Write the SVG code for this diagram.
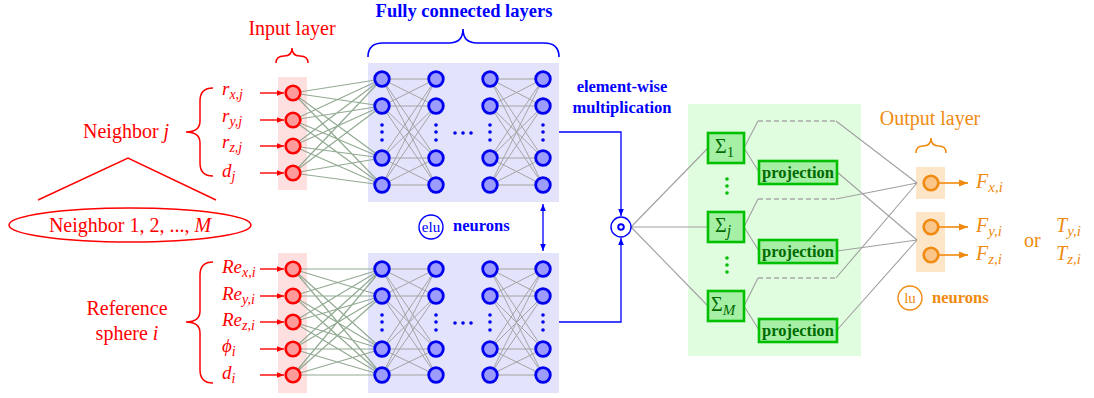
<svg xmlns="http://www.w3.org/2000/svg" width="1094" height="398" viewBox="0 0 1094 398" font-family="'Liberation Serif', 'DejaVu Serif', 'Noto Serif', 'Times New Roman', serif">
  <defs>
    <style>
      svg text, svg tspan { font-family: "Liberation Serif", "DejaVu Serif", "Noto Serif", "Times New Roman", serif; }
      .t20 { font-size: 20px; }
      .it { font-style: italic; }
      .b { font-weight: bold; }
      .sub { font-size: 14px; font-style: italic; }
      .red { fill: #ff0000; }
      .blue { fill: #0000ff; }
      .orange { fill: #f08a10; }
      .dgreen { fill: #006a00; }
      .inode { fill: #ff9a9a; stroke: #ff0000; stroke-width: 2.6; }
      .hnode { fill: #9c9cff; stroke: #0000ee; stroke-width: 2.8; }
      .onode { fill: #fbc68a; stroke: #f08a10; stroke-width: 2.6; }
      .gbox { fill: #a6f0a6; stroke: #00c000; stroke-width: 2.6; }
      .w-in { stroke: #93aa93; stroke-width: 1.2; fill: none; }
      .w-h { stroke: #a4a4a4; stroke-width: 1; fill: none; }
      .gray { stroke: #a0a0a0; stroke-width: 1.1; fill: none; }
      .dash { stroke: #a8a8a8; stroke-width: 1.3; fill: none; stroke-dasharray: 5 3; }
      .bl { stroke: #0000ff; stroke-width: 1.3; fill: none; }
      .rl { stroke: #ff0000; stroke-width: 1.4; fill: none; }
      .ol { stroke: #f08a10; stroke-width: 1.6; fill: none; }
      .brace-r { stroke: #ff0000; stroke-width: 1.5; fill: none; }
      .brace-b { stroke: #0000ff; stroke-width: 1.6; fill: none; }
      .brace-o { stroke: #f08a10; stroke-width: 1.5; fill: none; }
    </style>
    <marker id="arR" viewBox="0 0 10 10" refX="10" refY="5" markerWidth="7" markerHeight="7" markerUnits="userSpaceOnUse" orient="auto">
      <path d="M0,1 L10,5 L0,9 Z" fill="#ff0000"/>
    </marker>
    <marker id="arB" viewBox="0 0 10 10" refX="10" refY="5" markerWidth="7" markerHeight="7" markerUnits="userSpaceOnUse" orient="auto-start-reverse">
      <path d="M0,1 L10,5 L0,9 Z" fill="#0000ff"/>
    </marker>
    <marker id="arO" viewBox="0 0 10 10" refX="10" refY="5" markerWidth="9" markerHeight="9" markerUnits="userSpaceOnUse" orient="auto">
      <path d="M0,1 L10,5 L0,9 Z" fill="#f08a10"/>
    </marker>
  </defs>

  <!-- backgrounds -->
  <g id="backgrounds">
    <rect x="278" y="77" width="29" height="113" fill="#ffe0e0"/>
    <rect x="278" y="253" width="29" height="140" fill="#ffe0e0"/>
    <rect x="368" y="63" width="191" height="139" fill="#e3e3fc"/>
    <rect x="368" y="253" width="191" height="140" fill="#e3e3fc"/>
    <rect x="688" y="104" width="173" height="252" fill="#e0fde0"/>
    <rect x="916" y="167" width="29" height="32" fill="#fde6c8"/>
    <rect x="916" y="212" width="29" height="60" fill="#fde6c8"/>
  </g>

  <!-- connectors -->
  <g id="connectors">
    <!-- input layer to first hidden layer -->
    <g class="w-in">
      <path d="M293,93 L382,79 M293,93 L382,106 M293,93 L382,158 M293,93 L382,185
               M293,120 L382,79 M293,120 L382,106 M293,120 L382,158 M293,120 L382,185
               M293,146 L382,79 M293,146 L382,106 M293,146 L382,158 M293,146 L382,185
               M293,173 L382,79 M293,173 L382,106 M293,173 L382,158 M293,173 L382,185"/>
      <path d="M293,269 L382,269 M293,269 L382,296 M293,269 L382,349 M293,269 L382,375
               M293,296 L382,269 M293,296 L382,296 M293,296 L382,349 M293,296 L382,375
               M293,322 L382,269 M293,322 L382,296 M293,322 L382,349 M293,322 L382,375
               M293,349 L382,269 M293,349 L382,296 M293,349 L382,349 M293,349 L382,375
               M293,375 L382,269 M293,375 L382,296 M293,375 L382,349 M293,375 L382,375"/>
    </g>
    <!-- hidden to hidden -->
    <g class="w-h">
      <path d="M382,79 L436,79 M382,79 L436,106 M382,79 L436,158 M382,79 L436,185
               M382,106 L436,79 M382,106 L436,106 M382,106 L436,158 M382,106 L436,185
               M382,158 L436,79 M382,158 L436,106 M382,158 L436,158 M382,158 L436,185
               M382,185 L436,79 M382,185 L436,106 M382,185 L436,158 M382,185 L436,185"/>
      <path d="M490,79 L543,79 M490,79 L543,106 M490,79 L543,158 M490,79 L543,185
               M490,106 L543,79 M490,106 L543,106 M490,106 L543,158 M490,106 L543,185
               M490,158 L543,79 M490,158 L543,106 M490,158 L543,158 M490,158 L543,185
               M490,185 L543,79 M490,185 L543,106 M490,185 L543,158 M490,185 L543,185"/>
      <path d="M382,269 L436,269 M382,269 L436,296 M382,269 L436,349 M382,269 L436,375
               M382,296 L436,269 M382,296 L436,296 M382,296 L436,349 M382,296 L436,375
               M382,349 L436,269 M382,349 L436,296 M382,349 L436,349 M382,349 L436,375
               M382,375 L436,269 M382,375 L436,296 M382,375 L436,349 M382,375 L436,375"/>
      <path d="M490,269 L543,269 M490,269 L543,296 M490,269 L543,349 M490,269 L543,375
               M490,296 L543,269 M490,296 L543,296 M490,296 L543,349 M490,296 L543,375
               M490,349 L543,269 M490,349 L543,296 M490,349 L543,349 M490,349 L543,375
               M490,375 L543,269 M490,375 L543,296 M490,375 L543,349 M490,375 L543,375"/>
    </g>
    <!-- input arrows -->
    <g class="rl" marker-end="url(#arR)">
      <line x1="260" y1="93" x2="284" y2="93"/>
      <line x1="260" y1="120" x2="284" y2="120"/>
      <line x1="260" y1="146" x2="284" y2="146"/>
      <line x1="260" y1="173" x2="284" y2="173"/>
      <line x1="260" y1="269" x2="284" y2="269"/>
      <line x1="260" y1="296" x2="284" y2="296"/>
      <line x1="260" y1="322" x2="284" y2="322"/>
      <line x1="260" y1="349" x2="284" y2="349"/>
      <line x1="260" y1="375" x2="284" y2="375"/>
    </g>
    <!-- neighbor tree -->
    <path class="rl" d="M38,200 L128,158 L216,200" stroke-width="1.2"/>
    <!-- element-wise multiplication inputs -->
    <path class="bl" d="M559,132 H621 V216" marker-end="url(#arB)"/>
    <path class="bl" d="M559,322 H621 V238" marker-end="url(#arB)"/>
    <line class="bl" x1="543" y1="204" x2="543" y2="251" marker-start="url(#arB)" marker-end="url(#arB)"/>
    <!-- product to sums -->
    <path class="gray" d="M631,227 L708,148 M631,227 L708,227 M631,227 L708,306"/>
    <!-- sums to projections and dashed x-paths -->
    <path class="gray" d="M744,148 L759,172 M744,148 L758,121 M744,227 L759,251 M744,227 L758,199 M744,306 L759,330 M744,306 L758,278"/>
    <path class="dash" d="M758,121 H836 M758,199 H836 M758,278 H836"/>
    <!-- to output layer -->
    <path class="gray" d="M836,121 L917,183 M836,199 L917,183 M836,278 L917,183"/>
    <path class="gray" d="M837,172 L917,240 M837,251 L917,240 M837,330 L917,240"/>
    <!-- output arrows -->
    <g class="ol" marker-end="url(#arO)">
      <line x1="939" y1="183" x2="968" y2="183"/>
      <line x1="939" y1="227" x2="968" y2="227"/>
      <line x1="939" y1="255" x2="968" y2="255"/>
    </g>
  </g>

  <!-- input layer, top -->
  <g id="input-top">
    <circle class="inode" cx="293" cy="93" r="7.3"/>
    <circle class="inode" cx="293" cy="120" r="7.3"/>
    <circle class="inode" cx="293" cy="146" r="7.3"/>
    <circle class="inode" cx="293" cy="173" r="7.3"/>
  </g>
  <!-- input layer, bottom -->
  <g id="input-bottom">
    <circle class="inode" cx="293" cy="269" r="7.3"/>
    <circle class="inode" cx="293" cy="296" r="7.3"/>
    <circle class="inode" cx="293" cy="322" r="7.3"/>
    <circle class="inode" cx="293" cy="349" r="7.3"/>
    <circle class="inode" cx="293" cy="375" r="7.3"/>
  </g>

  <!-- hidden layers, top -->
  <g id="hidden-top">
    <g class="hnode">
      <circle cx="382" cy="79" r="7.3"/><circle cx="382" cy="106" r="7.3"/><circle cx="382" cy="158" r="7.3"/><circle cx="382" cy="185" r="7.3"/>
      <circle cx="436" cy="79" r="7.3"/><circle cx="436" cy="106" r="7.3"/><circle cx="436" cy="158" r="7.3"/><circle cx="436" cy="185" r="7.3"/>
      <circle cx="490" cy="79" r="7.3"/><circle cx="490" cy="106" r="7.3"/><circle cx="490" cy="158" r="7.3"/><circle cx="490" cy="185" r="7.3"/>
      <circle cx="543" cy="79" r="7.3"/><circle cx="543" cy="106" r="7.3"/><circle cx="543" cy="158" r="7.3"/><circle cx="543" cy="185" r="7.3"/>
    </g>
    <g fill="#0000ee">
      <circle cx="382" cy="125" r="1.8"/><circle cx="382" cy="132" r="1.8"/><circle cx="382" cy="140" r="1.8"/>
      <circle cx="436" cy="125" r="1.8"/><circle cx="436" cy="132" r="1.8"/><circle cx="436" cy="140" r="1.8"/>
      <circle cx="490" cy="125" r="1.8"/><circle cx="490" cy="132" r="1.8"/><circle cx="490" cy="140" r="1.8"/>
      <circle cx="543" cy="125" r="1.8"/><circle cx="543" cy="132" r="1.8"/><circle cx="543" cy="140" r="1.8"/>
      <circle cx="455" cy="133" r="1.8"/><circle cx="463" cy="133" r="1.8"/><circle cx="471" cy="133" r="1.8"/>
    </g>
  </g>

  <!-- hidden layers, bottom -->
  <g id="hidden-bottom">
    <g class="hnode">
      <circle cx="382" cy="269" r="7.3"/><circle cx="382" cy="296" r="7.3"/><circle cx="382" cy="349" r="7.3"/><circle cx="382" cy="375" r="7.3"/>
      <circle cx="436" cy="269" r="7.3"/><circle cx="436" cy="296" r="7.3"/><circle cx="436" cy="349" r="7.3"/><circle cx="436" cy="375" r="7.3"/>
      <circle cx="490" cy="269" r="7.3"/><circle cx="490" cy="296" r="7.3"/><circle cx="490" cy="349" r="7.3"/><circle cx="490" cy="375" r="7.3"/>
      <circle cx="543" cy="269" r="7.3"/><circle cx="543" cy="296" r="7.3"/><circle cx="543" cy="349" r="7.3"/><circle cx="543" cy="375" r="7.3"/>
    </g>
    <g fill="#0000ee">
      <circle cx="382" cy="315" r="1.8"/><circle cx="382" cy="322" r="1.8"/><circle cx="382" cy="330" r="1.8"/>
      <circle cx="436" cy="315" r="1.8"/><circle cx="436" cy="322" r="1.8"/><circle cx="436" cy="330" r="1.8"/>
      <circle cx="490" cy="315" r="1.8"/><circle cx="490" cy="322" r="1.8"/><circle cx="490" cy="330" r="1.8"/>
      <circle cx="543" cy="315" r="1.8"/><circle cx="543" cy="322" r="1.8"/><circle cx="543" cy="330" r="1.8"/>
      <circle cx="455" cy="323" r="1.8"/><circle cx="463" cy="323" r="1.8"/><circle cx="471" cy="323" r="1.8"/>
    </g>
  </g>

  <!-- element-wise product node -->
  <g id="product">
    <circle cx="621" cy="227" r="10" fill="#ffffff" stroke="#0000ff" stroke-width="1.4"/>
    <circle cx="621" cy="227" r="2.8" fill="none" stroke="#0000ff" stroke-width="2"/>
  </g>

  <!-- sum nodes -->
  <g id="sum-1">
    <rect class="gbox" x="708" y="133" width="36" height="30"/>
    <text x="715" y="153" font-size="20px" class="dgreen">Σ<tspan font-size="15px" dy="4">1</tspan></text>
  </g>
  <g id="sum-j">
    <rect class="gbox" x="708" y="212" width="36" height="30"/>
    <text x="715" y="232" font-size="20px" class="dgreen">Σ<tspan font-size="16px" font-style="italic" dy="4">j</tspan></text>
  </g>
  <g id="sum-M">
    <rect class="gbox" x="708" y="291" width="36" height="30"/>
    <text x="711" y="311" font-size="20px" class="dgreen">Σ<tspan font-size="15px" font-style="italic" dy="4">M</tspan></text>
  </g>
  <g id="sum-dots" fill="#00c000">
    <circle cx="727" cy="179" r="1.8"/><circle cx="727" cy="186" r="1.8"/><circle cx="727" cy="193" r="1.8"/>
    <circle cx="727" cy="258" r="1.8"/><circle cx="727" cy="265" r="1.8"/><circle cx="727" cy="272" r="1.8"/>
  </g>

  <!-- projection nodes -->
  <g id="projection-1">
    <rect class="gbox" x="759" y="161" width="78" height="23"/>
    <text x="798" y="178" text-anchor="middle" font-size="16.5px" class="b dgreen" textLength="72" lengthAdjust="spacingAndGlyphs">projection</text>
  </g>
  <g id="projection-j">
    <rect class="gbox" x="759" y="240" width="78" height="23"/>
    <text x="798" y="257" text-anchor="middle" font-size="16.5px" class="b dgreen" textLength="72" lengthAdjust="spacingAndGlyphs">projection</text>
  </g>
  <g id="projection-M">
    <rect class="gbox" x="759" y="319" width="78" height="23"/>
    <text x="798" y="336" text-anchor="middle" font-size="16.5px" class="b dgreen" textLength="72" lengthAdjust="spacingAndGlyphs">projection</text>
  </g>

  <!-- output layer -->
  <g id="output">
    <circle class="onode" cx="931" cy="183" r="7.3"/>
    <circle class="onode" cx="931" cy="227" r="7.3"/>
    <circle class="onode" cx="931" cy="255" r="7.3"/>
  </g>

  <!-- input labels, neighbor j -->
  <g id="labels-neighbor" class="red">
    <text x="222" y="95" font-size="19px" class="it">r<tspan class="sub" dy="4">x,j</tspan></text>
    <text x="222" y="122" font-size="19px" class="it">r<tspan class="sub" dy="4">y,j</tspan></text>
    <text x="222" y="148" font-size="19px" class="it">r<tspan class="sub" dy="4">z,j</tspan></text>
    <text x="222" y="177" font-size="19px" class="it">d<tspan class="sub" dy="4">j</tspan></text>
    <text x="83" y="138" class="t20">Neighbor <tspan class="it">j</tspan></text>
    <path class="brace-r" d="M213,88 Q200,88 200,101 L200,121 Q200,132 186,132 Q200,132 200,143 L200,163 Q200,176 213,176"/>
  </g>
  <g id="all-neighbors">
    <ellipse cx="130" cy="225" rx="121" ry="17" fill="none" stroke="#ff0000" stroke-width="1.5"/>
    <text x="130" y="232" text-anchor="middle" class="t20 red">Neighbor 1, 2, ..., <tspan class="it">M</tspan></text>
  </g>

  <!-- input labels, reference sphere i -->
  <g id="labels-reference" class="red">
    <text x="222" y="273" font-size="19px" class="it">Re<tspan class="sub" dy="4">x,i</tspan></text>
    <text x="222" y="300" font-size="19px" class="it">Re<tspan class="sub" dy="4">y,i</tspan></text>
    <text x="222" y="326" font-size="19px" class="it">Re<tspan class="sub" dy="4">z,i</tspan></text>
    <text x="222" y="352" font-size="19px" class="it">ϕ<tspan class="sub" dy="4">i</tspan></text>
    <text x="222" y="379" font-size="19px" class="it">d<tspan class="sub" dy="4">i</tspan></text>
    <text x="127" y="315" text-anchor="middle" class="t20">Reference</text>
    <text x="127" y="340" text-anchor="middle" class="t20">sphere <tspan class="it">i</tspan></text>
    <path class="brace-r" d="M213,262 Q200,262 200,275 L200,311 Q200,322 186,322 Q200,322 200,333 L200,370 Q200,383 213,383"/>
  </g>

  <!-- titles -->
  <g id="title-input">
    <text x="292" y="35" text-anchor="middle" class="t20 red">Input layer</text>
    <path class="brace-r" d="M276,63 Q276,56 284,56 Q292,56 292,48 Q292,56 300,56 Q308,56 308,63"/>
  </g>
  <g id="title-hidden">
    <text x="464" y="17" text-anchor="middle" font-size="18.5px" class="b blue">Fully connected layers</text>
    <path class="brace-b" d="M368,57 Q368,43 383,43 L449,43 Q463,43 463,29 Q463,43 477,43 L544,43 Q559,43 559,57"/>
  </g>
  <g id="title-product">
    <text x="622" y="92" text-anchor="middle" font-size="16.5px" class="b blue">element-wise</text>
    <text x="622" y="113" text-anchor="middle" font-size="16.5px" class="b blue">multiplication</text>
  </g>
  <g id="legend-elu">
    <circle cx="431" cy="227" r="12" fill="none" stroke="#0000ff" stroke-width="1.4"/>
    <text x="431" y="232" text-anchor="middle" font-size="15px" class="blue">elu</text>
    <text x="453" y="231" font-size="16.5px" class="b blue">neurons</text>
  </g>
  <g id="title-output">
    <text x="930" y="125" text-anchor="middle" class="t20 orange">Output layer</text>
    <path class="brace-o" d="M916,153 Q916,146 923,146 Q931,146 931,138 Q931,146 939,146 Q946,146 946,153"/>
  </g>
  <g id="labels-output" class="orange">
    <text x="976" y="188" font-size="20px" class="it">F<tspan font-size="15px" dy="4">x,i</tspan></text>
    <text x="976" y="232" font-size="20px" class="it">F<tspan font-size="15px" dy="4">y,i</tspan></text>
    <text x="976" y="260" font-size="20px" class="it">F<tspan font-size="15px" dy="4">z,i</tspan></text>
    <text x="1024" y="247" class="t20">or</text>
    <text x="1056" y="232" font-size="20px" class="it">T<tspan font-size="15px" dy="4">y,i</tspan></text>
    <text x="1056" y="260" font-size="20px" class="it">T<tspan font-size="15px" dy="4">z,i</tspan></text>
  </g>
  <g id="legend-lu">
    <circle cx="910" cy="298" r="12" fill="none" stroke="#f08a10" stroke-width="1.4"/>
    <text x="910" y="303" text-anchor="middle" font-size="15px" class="orange">lu</text>
    <text x="932" y="303" font-size="16.5px" class="b orange">neurons</text>
  </g>
</svg>
